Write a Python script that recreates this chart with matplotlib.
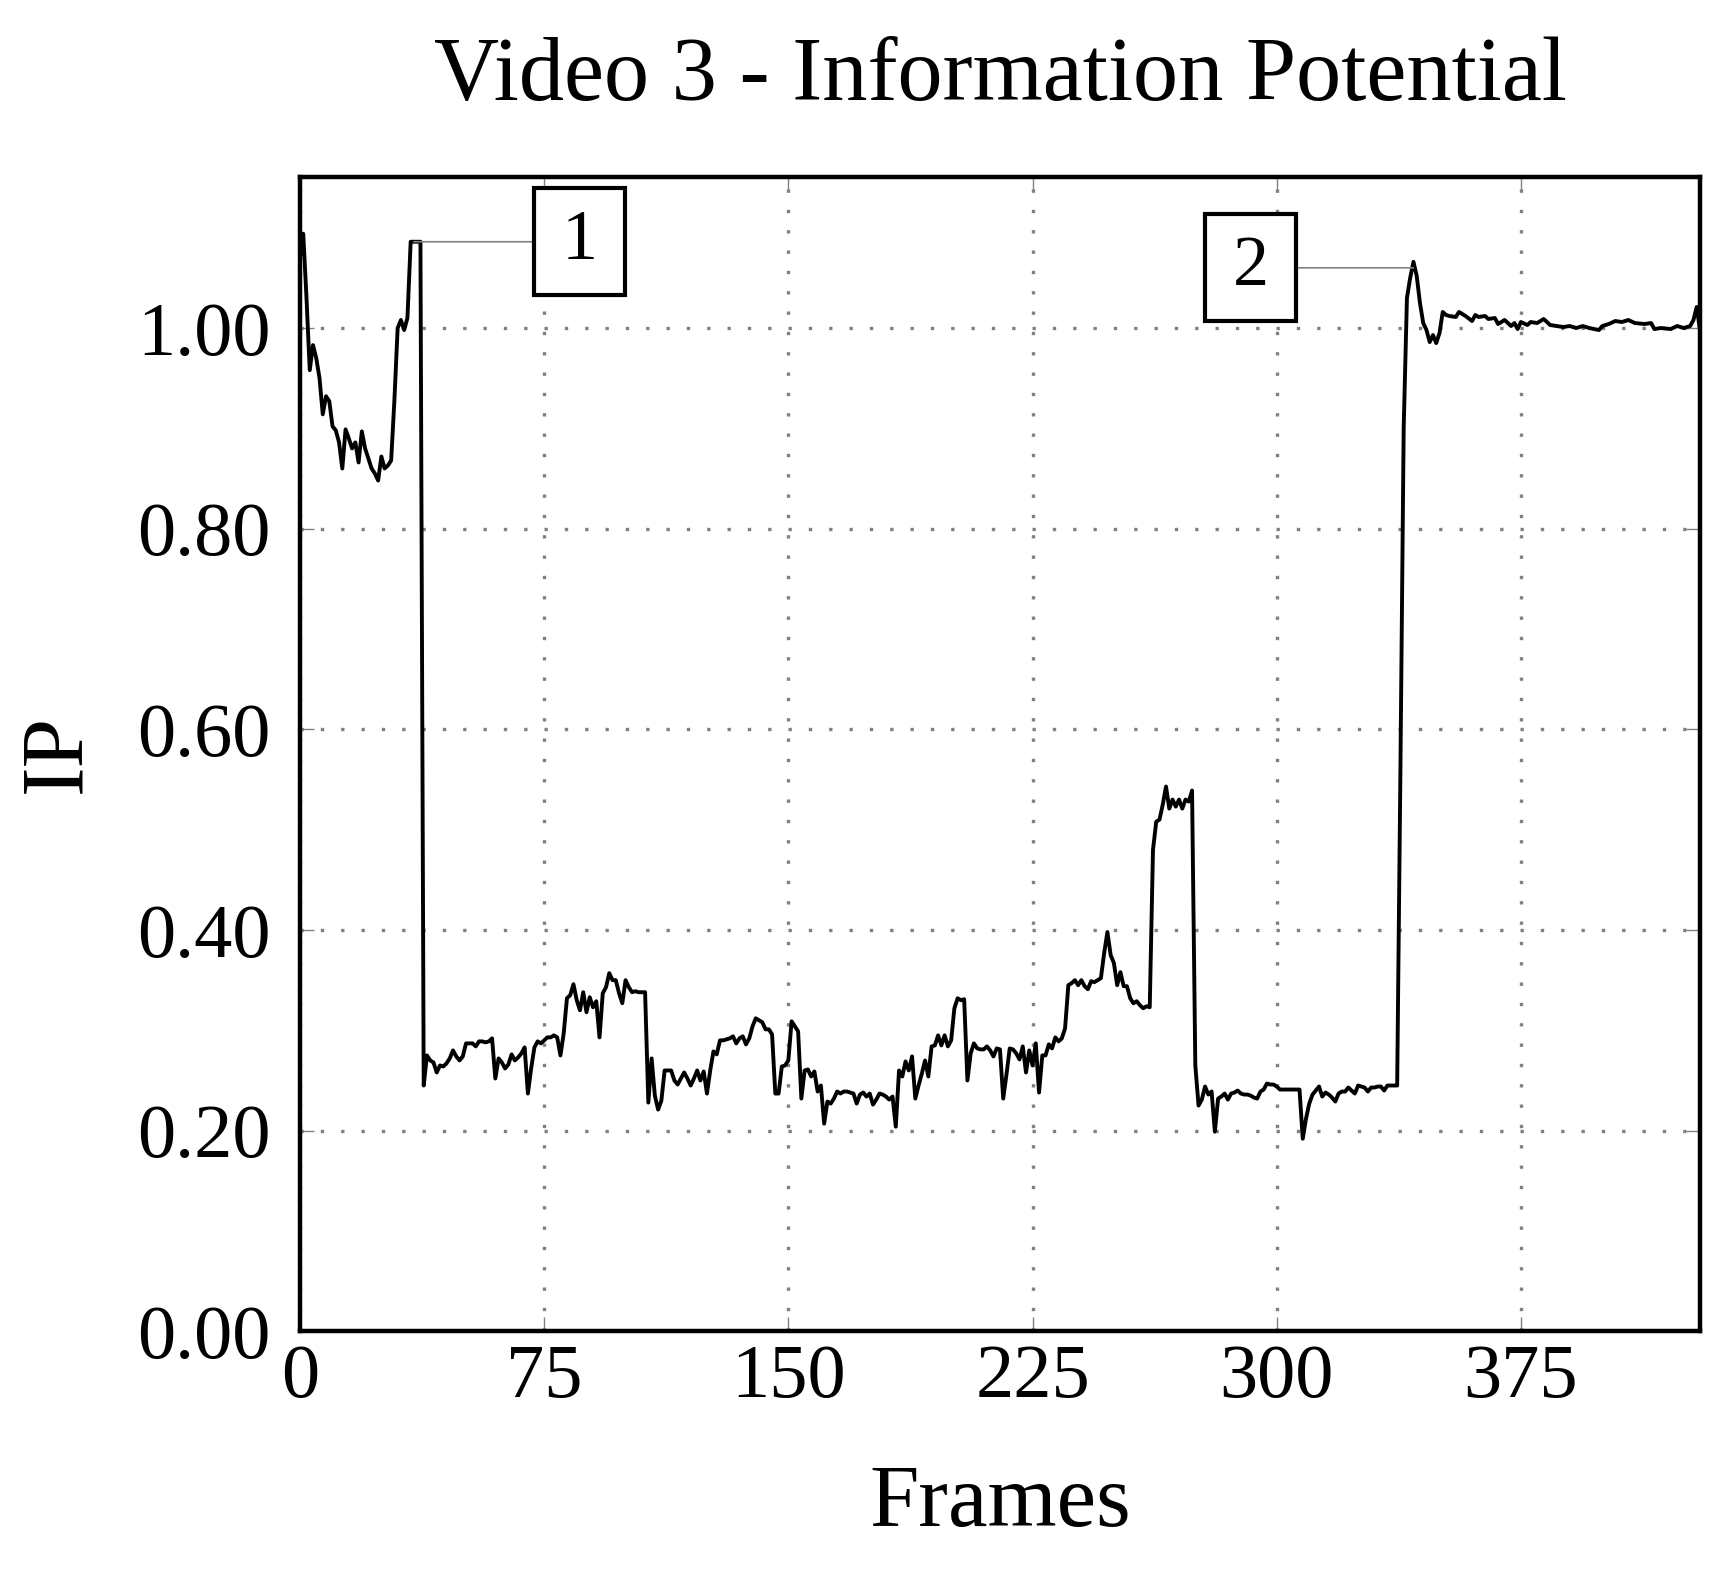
import matplotlib
matplotlib.use("Agg")
import matplotlib.pyplot as plt

# IP value per frame, frames 0..351 read one by one
ip_head = [
    1.070, 1.094, 1.030, 0.958, 0.983, 0.970, 0.950, 0.914, 0.932, 0.927,
    0.902, 0.898, 0.886, 0.860, 0.899, 0.890, 0.880, 0.886, 0.866, 0.897,
    0.880, 0.870, 0.860, 0.855, 0.848, 0.872, 0.860, 0.863, 0.868, 0.928,
    1.000, 1.008, 0.998, 1.010, 1.086, 1.086, 1.086, 1.086, 0.245, 0.275,
    0.270, 0.268, 0.258, 0.265, 0.264, 0.267, 0.272, 0.280, 0.274, 0.270,
    0.274, 0.287, 0.287, 0.287, 0.284, 0.289, 0.289, 0.288, 0.289, 0.292,
    0.252, 0.272, 0.268, 0.262, 0.266, 0.276, 0.270, 0.273, 0.277, 0.283,
    0.237, 0.262, 0.283, 0.289, 0.287, 0.290, 0.293, 0.293, 0.295, 0.293,
    0.275, 0.297, 0.332, 0.335, 0.346, 0.330, 0.320, 0.338, 0.318, 0.333,
    0.323, 0.329, 0.293, 0.337, 0.343, 0.357, 0.350, 0.350, 0.337, 0.327,
    0.350, 0.343, 0.338, 0.339, 0.338, 0.338, 0.338, 0.228, 0.272, 0.235,
    0.221, 0.230, 0.260, 0.260, 0.260, 0.250, 0.246, 0.252, 0.258, 0.252,
    0.245, 0.252, 0.260, 0.250, 0.259, 0.237, 0.260, 0.279, 0.276, 0.290,
    0.290, 0.291, 0.292, 0.294, 0.287, 0.292, 0.294, 0.286, 0.292, 0.304,
    0.312, 0.310, 0.308, 0.301, 0.301, 0.296, 0.237, 0.237, 0.264, 0.265,
    0.270, 0.309, 0.304, 0.299, 0.232, 0.260, 0.261, 0.254, 0.259, 0.239,
    0.245, 0.207, 0.229, 0.227, 0.232, 0.239, 0.237, 0.239, 0.239, 0.238,
    0.237, 0.227, 0.236, 0.238, 0.234, 0.237, 0.226, 0.231, 0.237, 0.236,
    0.234, 0.231, 0.234, 0.204, 0.260, 0.254, 0.269, 0.260, 0.274, 0.232,
    0.245, 0.257, 0.270, 0.254, 0.284, 0.285, 0.295, 0.285, 0.295, 0.284,
    0.290, 0.322, 0.332, 0.330, 0.331, 0.250, 0.277, 0.287, 0.282, 0.281,
    0.281, 0.284, 0.280, 0.274, 0.282, 0.281, 0.232, 0.256, 0.282, 0.281,
    0.277, 0.271, 0.284, 0.258, 0.280, 0.265, 0.287, 0.238, 0.275, 0.275,
    0.286, 0.282, 0.293, 0.289, 0.292, 0.302, 0.345, 0.347, 0.350, 0.345,
    0.350, 0.344, 0.341, 0.349, 0.348, 0.350, 0.352, 0.377, 0.398, 0.375,
    0.367, 0.345, 0.358, 0.344, 0.344, 0.332, 0.327, 0.329, 0.325, 0.322,
    0.324, 0.323, 0.480, 0.508, 0.510, 0.525, 0.543, 0.521, 0.530, 0.523,
    0.530, 0.521, 0.530, 0.528, 0.539, 0.265, 0.225, 0.231, 0.244, 0.236,
    0.239, 0.199, 0.232, 0.234, 0.237, 0.231, 0.237, 0.238, 0.240, 0.237,
    0.236, 0.236, 0.235, 0.233, 0.232, 0.239, 0.241, 0.247, 0.246, 0.246,
    0.244, 0.241, 0.241, 0.241, 0.241, 0.241, 0.241, 0.241, 0.192, 0.212,
    0.227, 0.236, 0.240, 0.244, 0.234, 0.238, 0.236, 0.233, 0.229, 0.237,
    0.239, 0.239, 0.243, 0.240, 0.237, 0.245, 0.244, 0.243, 0.239, 0.243,
    0.243, 0.244, 0.244, 0.240, 0.245, 0.245, 0.245, 0.245, 0.560, 0.900,
    1.030, 1.050, 1.066, 1.052, 1.025, 1.005, 0.998, 0.986, 0.993, 0.985,
    0.995, 1.016,
]

# flat tail, read at the frames below
tail_frames = [352, 353, 355, 356, 358, 360, 361, 362, 364, 365,
               367, 368, 370, 372, 373, 374, 375, 377, 378, 380,
               382, 384, 386, 388, 390, 392, 394, 396, 399, 400,
               402, 404, 406, 408, 410, 413, 415, 416, 418, 421,
               423, 425, 427, 428, 429, 430]
tail_ip = [1.013, 1.012, 1.011, 1.016, 1.012, 1.007, 1.013, 1.011, 1.012, 1.009,
           1.010, 1.004, 1.008, 1.002, 1.005, 0.999, 1.006, 1.003, 1.006, 1.005,
           1.009, 1.003, 1.002, 1.001, 1.002, 1.000, 1.002, 1.000, 0.998, 1.002,
           1.004, 1.007, 1.006, 1.008, 1.005, 1.004, 1.005, 0.999, 1.000, 0.999,
           1.002, 1.000, 1.002, 1.008, 1.021, 0.998]

frames = list(range(len(ip_head))) + tail_frames
ip = ip_head + tail_ip

# annotations: label, point on curve, box position
notes = [("1", (35, 1.086), (86, 1.086)),
         ("2", (342, 1.060), (292, 1.060))]

xticks = [0, 75, 150, 225, 300, 375]
yticks = [0.0, 0.2, 0.4, 0.6, 0.8, 1.0]

plt.rcParams['font.family'] = ['Liberation Serif', 'DejaVu Serif']

fig = plt.figure(figsize=(17.35, 15.72), dpi=100)
ax = fig.add_axes([0.1729, 0.1531, 0.8069, 0.7346])

ax.plot(frames, ip, color='black', lw=2.8, zorder=3)

ax.set_xlim(0, 430)
ax.set_ylim(0, 1.151)
ax.set_xticks(xticks)
ax.set_yticks(yticks)
ax.set_xticklabels([str(t) for t in xticks])
ax.set_yticklabels([f"{t:.2f}" for t in yticks])

ax.grid(True, color='#808080', lw=2.4, ls=(0, (1, 5.1)))
ax.tick_params(direction='in', length=10, width=1, color='#808080',
               top=True, right=True, labelsize=55)
ax.tick_params(axis='x', pad=9)
ax.tick_params(axis='y', pad=21)
for s in ax.spines.values():
    s.set_linewidth(3.2)

for label, pt, box in notes:
    ax.annotate(label, xy=pt, xytext=box, fontsize=52, ha='center', va='center',
                zorder=5,
                bbox=dict(boxstyle='square,pad=0.38', fc='white', ec='black',
                          lw=3.0, mutation_aspect=0.76),
                arrowprops=dict(arrowstyle='-', color='#808080', lw=1.2,
                                shrinkA=0, shrinkB=0))

ax.set_title("Video 3 - Information Potential", fontsize=65, pad=55)
ax.set_xlabel("Frames", fontsize=64, labelpad=37)
ax.set_ylabel("IP", fontsize=64, labelpad=28)

fig.savefig("out.png", dpi=100)
